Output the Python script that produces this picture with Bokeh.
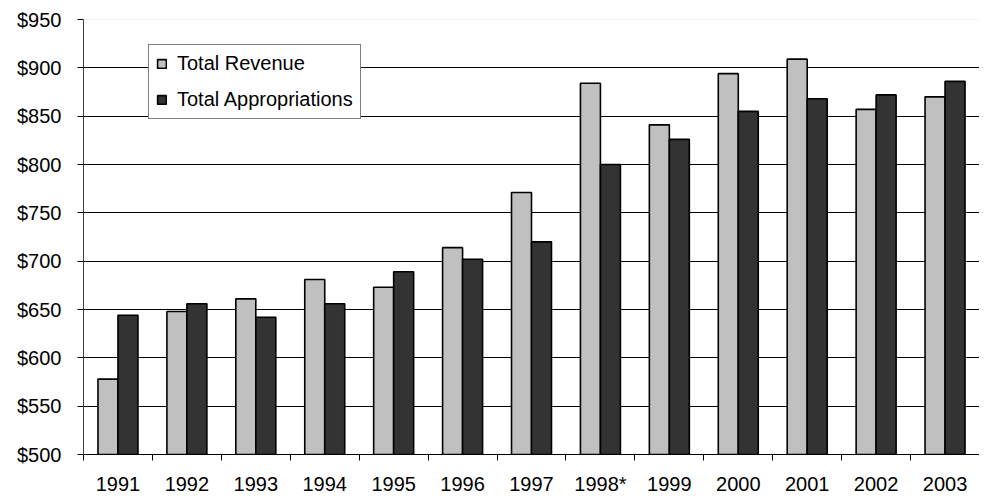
from bokeh.plotting import figure
from bokeh.models import (ColumnDataSource, FixedTicker, Span, Legend, LegendItem, Range1d)
from bokeh.embed import file_html
from bokeh.resources import INLINE
import numpy as np

years = ["1991", "1992", "1993", "1994", "1995", "1996", "1997", "1998*",
         "1999", "2000", "2001", "2002", "2003"]
revenue = [578, 648, 661, 681, 673, 714, 771, 884, 841, 894, 909, 857, 870]
appropriations = [644, 656, 642, 656, 689, 702, 720, 800, 826, 855, 868, 872, 886]
y_ticks = [500, 550, 600, 650, 700, 750, 800, 850, 900, 950]

FONT = "Liberation Sans"
FS = "20px"
BAR_W = 0.29
n = len(years)
centers = np.arange(n) + 0.5

src = ColumnDataSource(dict(
    xr=centers - BAR_W / 2, xa=centers + BAR_W / 2,
    rev=revenue, app=appropriations))

p = figure(frame_width=896, frame_height=435, output_backend="svg",
           toolbar_location=None, x_range=Range1d(0, n), y_range=Range1d(500, 950),
           min_border_left=83, min_border_top=19, min_border_right=0, min_border_bottom=0,
           background_fill_color="white", border_fill_color="white")
p.outline_line_color = None
p.xgrid.visible = False
p.ygrid.ticker = FixedTicker(ticks=y_ticks[1:-1])
p.ygrid.grid_line_color = "black"
p.ygrid.grid_line_width = 1
p.add_layout(Span(location=950, dimension="width", line_color="#e4e4e4", line_width=1))

r1 = p.vbar(x="xr", top="rev", bottom=500, width=BAR_W, source=src,
            fill_color="#c0c0c0", line_color="black", line_width=1.6)
r2 = p.vbar(x="xa", top="app", bottom=500, width=BAR_W, source=src,
            fill_color="#333333", line_color="black", line_width=1.6)

# x axis: labels at centers, ticks at category boundaries
xa = p.xaxis[0]
xa.ticker = FixedTicker(ticks=list(centers), minor_ticks=list(range(n + 1)))
xa.major_label_overrides = {float(c): y for c, y in zip(centers, years)}
xa.major_tick_out = 0
xa.major_tick_in = 0
xa.minor_tick_out = 6
xa.minor_tick_in = 0
xa.minor_tick_line_color = "black"
xa.axis_line_color = "black"
xa.major_label_text_font = FONT
xa.major_label_text_font_size = FS
xa.major_label_text_color = "black"
xa.major_label_standoff = 12

ya = p.yaxis[0]
ya.ticker = FixedTicker(ticks=y_ticks)
ya.major_label_overrides = {v: "$%d" % v for v in y_ticks}
ya.major_tick_out = 6
ya.major_tick_in = 0
ya.minor_tick_line_color = None
ya.axis_line_color = "#404040"
ya.major_tick_line_color = "black"
ya.major_label_text_font = FONT
ya.major_label_text_font_size = FS
ya.major_label_text_color = "black"
ya.major_label_standoff = 16

legend = Legend(items=[LegendItem(label="Total Revenue", renderers=[r1]),
                       LegendItem(label="Total Appropriations", renderers=[r2])],
                location=(65, 335), margin=0, padding=7, spacing=13,
                glyph_width=11, glyph_height=11, label_standoff=10,
                label_text_font=FONT, label_text_font_size=FS,
                label_text_color="black", border_line_color="black",
                border_line_width=1, background_fill_alpha=1.0)
p.add_layout(legend, "center")

open("out.html", "w").write(file_html(p, INLINE))
